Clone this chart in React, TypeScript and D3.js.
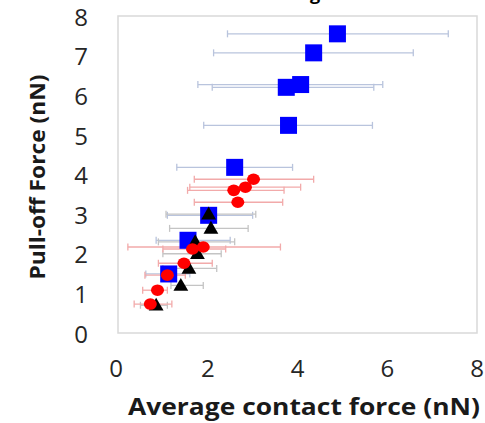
import * as d3 from "d3";
import { useEffect, useRef } from "react";

const xTicks = [0, 2, 4, 6, 8];
const yTicks = [0, 1, 2, 3, 4, 5, 6, 7, 8];

// blue squares
const blueX = [4.89, 4.36, 4.07, 3.75, 3.8, 2.6, 2.02, 1.56, 1.13];
const blueY = [7.55, 7.07, 6.27, 6.2, 5.24, 4.18, 2.97, 2.34, 1.49];
const blueLo = [2.44, 2.13, 1.78, 2.1, 1.91, 1.31, 1.1, 0.85, 0.62];
const blueHi = [7.36, 6.58, 5.9, 5.7, 5.67, 3.89, 3.0, 2.5, 1.6];

// red circles
const redX = [3.02, 2.84, 2.58, 2.67, 1.9, 1.66, 1.47, 1.1, 0.88, 0.72];
const redY = [3.88, 3.68, 3.6, 3.3, 2.17, 2.12, 1.76, 1.46, 1.08, 0.73];
const redLo = [1.7, 1.6, 1.55, 1.7, 0.22, 1.0, 0.9, 0.6, 0.55, 0.36];
const redHi = [4.36, 4.07, 3.7, 3.67, 3.62, 2.4, 2.1, 1.5, 1.1, 1.2];

// black triangles
const blackX = [2.02, 2.07, 1.77, 1.72, 1.58, 1.4, 0.85];
const blackY = [3.0, 2.64, 2.0, 2.3, 1.63, 1.2, 0.7];
const blackLo = [1.07, 1.15, 1.0, 0.9, 1.0, 1.18, 0.5];
const blackHi = [3.07, 2.9, 2.3, 2.6, 2.2, 1.9, 1.1];

type Pt = { x: number; y: number; lo: number; hi: number };

const zip = (xs: number[], ys: number[], lo: number[], hi: number[]): Pt[] =>
    xs.map((x, i) => ({ x, y: ys[i], lo: lo[i], hi: hi[i] }));

function drawChart(el: SVGSVGElement) {
    const svg = d3.select(el);
    svg.selectAll("*").remove();

    const x = d3.scaleLinear().domain([0, 8]).range([118, 477]);
    const y = d3.scaleLinear().domain([0, 8]).range([333, 16]);

    // title cut off by the top edge, only the "g" descender shows
    svg.append("text")
        .attr("x", 315)
        .attr("y", 0)
        .attr("text-anchor", "middle")
        .style("font-family", "Open Sans")
        .style("font-size", "18px")
        .style("font-weight", "700")
        .text("g");

    // plot area border
    svg.append("rect")
        .attr("x", x(0))
        .attr("y", y(8))
        .attr("width", x(8) - x(0))
        .attr("height", y(0) - y(8))
        .attr("fill", "none")
        .attr("stroke", "#d9d9d9")
        .attr("stroke-width", 1.5);

    const series = [
        { pts: zip(blueX, blueY, blueLo, blueHi), bar: "#b9c4dd" },
        { pts: zip(blackX, blackY, blackLo, blackHi), bar: "#c4c4c4" },
        { pts: zip(redX, redY, redLo, redHi), bar: "#f2aaaa" },
    ];

    // error bars
    series.forEach((s) => {
        const g = svg.append("g").attr("stroke", s.bar).attr("stroke-width", 1.3);
        s.pts.forEach((d) => {
            g.append("line")
                .attr("x1", x(d.lo))
                .attr("x2", x(d.hi))
                .attr("y1", y(d.y))
                .attr("y2", y(d.y));
            [d.lo, d.hi].forEach((v) =>
                g.append("line")
                    .attr("x1", x(v))
                    .attr("x2", x(v))
                    .attr("y1", y(d.y) - 3.5)
                    .attr("y2", y(d.y) + 3.5)
            );
        });
    });

    // markers
    const sq = 17;
    svg.append("g")
        .selectAll("rect")
        .data(series[0].pts)
        .join("rect")
        .attr("x", (d) => x(d.x) - sq / 2)
        .attr("y", (d) => y(d.y) - sq / 2)
        .attr("width", sq)
        .attr("height", sq)
        .attr("fill", "#0000ff");

    const tri = d3.symbol().type(d3.symbolTriangle).size(95);
    svg.append("g")
        .selectAll("path")
        .data(series[1].pts)
        .join("path")
        .attr("d", tri)
        .attr("transform", (d) => `translate(${x(d.x)},${y(d.y) + 1})`)
        .attr("fill", "#000");

    svg.append("g")
        .selectAll("ellipse")
        .data(series[2].pts)
        .join("ellipse")
        .attr("cx", (d) => x(d.x))
        .attr("cy", (d) => y(d.y))
        .attr("rx", 6.5)
        .attr("ry", 5.8)
        .attr("fill", "#ff0000");

    // tick labels
    svg.append("g")
        .selectAll("text")
        .data(yTicks)
        .join("text")
        .attr("x", 88)
        .attr("y", (d) => y(d) + 1)
        .attr("dy", "0.36em")
        .attr("text-anchor", "end")
        .style("font-family", "Open Sans")
        .style("font-size", "24px")
        .style("fill", "#262626")
        .text((d) => d);

    svg.append("g")
        .selectAll("text")
        .data(xTicks)
        .join("text")
        .attr("x", (d) => x(d) - (d === 0 ? 2 : 0))
        .attr("y", 377)
        .attr("text-anchor", "middle")
        .style("font-family", "Open Sans")
        .style("font-size", "24px")
        .style("fill", "#262626")
        .text((d) => d);

    // axis titles
    svg.append("text")
        .attr("x", 304)
        .attr("y", 415)
        .attr("text-anchor", "middle")
        .attr("textLength", 352)
        .attr("lengthAdjust", "spacingAndGlyphs")
        .style("font-family", "Open Sans")
        .style("font-size", "23px")
        .style("font-weight", "700")
        .style("fill", "#1a1a1a")
        .text("Average contact force (nN)");

    svg.append("text")
        .attr("transform", "translate(45,177) rotate(-90)")
        .attr("text-anchor", "middle")
        .attr("textLength", 205)
        .attr("lengthAdjust", "spacingAndGlyphs")
        .style("font-family", "Open Sans")
        .style("font-size", "21px")
        .style("font-weight", "700")
        .style("fill", "#1a1a1a")
        .text("Pull-off Force (nN)");
}

export default function App() {
    const ref = useRef<SVGSVGElement | null>(null);

    useEffect(() => {
        document.body.style.margin = "0";
        if (ref.current) drawChart(ref.current);
    }, []);

    return (
        <svg
            ref={ref}
            width={485}
            height={423}
            style={{ display: "block", background: "#fff" }}
        ></svg>
    );
}
